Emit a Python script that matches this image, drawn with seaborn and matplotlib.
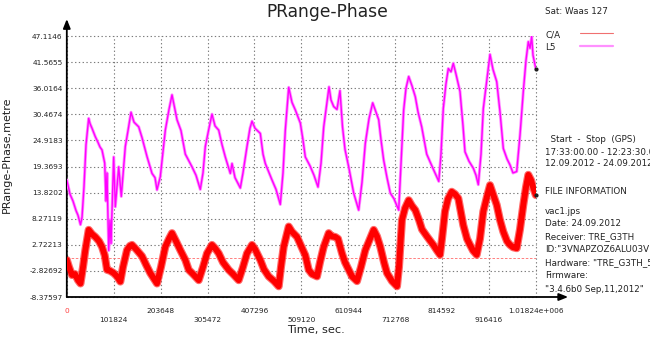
import matplotlib
matplotlib.use("Agg")
import matplotlib.pyplot as plt
from matplotlib.lines import Line2D
import numpy as np
import pandas as pd
import seaborn as sns

# ---- data -------------------------------------------------------------
# C/A pseudorange-minus-phase, metres, against time in seconds
ca_time = [0, 4800, 11300, 17800, 24300, 29700, 35200, 40200, 47500, 54700,
           61900, 69900, 76400, 82300, 87300, 93800, 101800, 109000, 116200, 122000,
           130700, 137200, 141600, 150200, 163300, 172000, 181300, 189300, 195800, 204500,
           213900, 221900, 228400, 237100, 246400, 257300, 264700, 274000, 286400, 295700,
           304400, 315200, 321800, 329800, 339100, 351500, 360800, 373200, 382500, 391200,
           402100, 408600, 420100, 428100, 438300, 449900, 460100, 465000, 470900, 481800,
           488900, 499800, 508500, 517800, 525200, 532300, 543200, 549700, 557800, 568600,
           575800, 582900, 588800, 597500, 604000, 612000, 619200, 630000, 638700, 648100,
           658300, 666300, 673500, 680600, 688700, 695200, 706000, 716900, 721200, 727700,
           734300, 742300, 749500, 756600, 764700, 771200, 782000, 795700, 803700, 810300,
           814600, 821100, 827600, 835700, 842800, 850000, 855800, 860800, 868900, 875400,
           881900, 889900, 897100, 904300, 912300, 918800, 925300, 933400, 940500, 947700,
           955700, 962200, 968700, 976800, 983900, 991100, 997000, 1002000, 1007800, 1012200,
           1018240]
ca_value = [-0.5, -2.0, -3.7, -3.5, -4.8, -5.5, -2.0, 1.6, 5.9, 5.0,
            4.4, 3.5, 2.3, 0.5, -2.6, -2.8, -3.3, -4.0, -5.1, -2.0,
            1.6, 2.5, 2.7, 1.8, 0.3, -1.5, -3.3, -4.5, -5.5, -2.0,
            2.3, 4.0, 5.2, 3.5, 1.6, -0.5, -2.6, -3.5, -4.8, -2.0,
            0.9, 2.7, 2.0, 0.9, -1.0, -2.6, -3.5, -4.8, -2.0, 0.9,
            2.7, 1.8, -0.5, -2.5, -4.0, -5.0, -6.1, -2.0, 2.3, 6.6,
            5.5, 4.4, 2.5, 0.5, -2.6, -3.5, -4.0, -1.0, 2.3, 5.2,
            4.5, 4.4, 4.0, 0.9, -1.0, -2.6, -4.0, -5.0, -2.0, 1.6,
            4.0, 5.9, 4.5, 2.3, -1.0, -3.3, -5.0, -6.1, -2.0, 8.0,
            10.5, 12.2, 11.0, 10.1, 8.0, 6.0, 4.5, 2.7, 1.5, 0.6,
            4.0, 9.8, 12.5, 14.0, 13.5, 12.6, 9.5, 6.9, 4.0, 2.7,
            1.5, 0.6, 4.0, 9.8, 13.0, 15.4, 13.5, 11.2, 8.0, 5.5,
            3.5, 2.7, 2.2, 2.0, 6.0, 11.2, 15.0, 17.6, 16.5, 15.0,
            13.3]

# L5 pseudorange-minus-phase, metres, against time in seconds
l5_time = [0, 6900, 13500, 20000, 24300, 29700, 33000, 37300, 41700, 47500,
           50400, 54700, 61900, 67700, 72100, 76400, 82300, 85100, 87300, 91000,
           93800, 96000, 101800, 105300, 112700, 118300, 127000, 132900, 139400, 145900,
           156100, 163300, 174100, 185000, 191500, 195800, 203000, 213900, 221900, 228400,
           234900, 239300, 247900, 257300, 271800, 280500, 289800, 295700, 300700, 308700,
           315200, 321800, 329800, 337000, 344100, 355000, 358700, 365200, 376700, 382500,
           391200, 397700, 402100, 408600, 420100, 426000, 431000, 445500, 454200, 463500,
           469400, 474400, 481800, 488900, 496100, 507000, 512800, 517800, 528000, 536700,
           545400, 551900, 557800, 564900, 569300, 573600, 579500, 586600, 593100, 598600,
           604000, 612000, 622900, 633700, 640900, 648100, 656100, 664100, 669100, 677200,
           682200, 688000, 695200, 702400, 710400, 720600, 725600, 731400, 736400, 742300,
           749500, 756600, 762500, 770500, 781400, 788500, 797200, 807600, 812400, 817400,
           823300, 828300, 834100, 839100, 845000, 853700, 860200, 864500, 873200, 882600,
           888400, 893400, 899300, 904300, 912300, 918800, 925300, 933400, 940500, 947700,
           955700, 962200, 968700, 976800, 983900, 991100, 997000, 1002000, 1005700, 1009300,
           1012200, 1018240]
l5_value = [16.5, 13.5, 12.0, 10.0, 9.0, 7.0, 8.5, 15.0, 24.0, 29.6,
            28.5, 27.5, 25.7, 24.5, 23.5, 22.9, 20.1, 12.0, 18.0, 1.5,
            8.0, 3.0, 21.4, 10.8, 19.3, 13.0, 23.6, 27.0, 30.9, 28.8,
            27.8, 25.5, 21.5, 17.9, 17.0, 14.4, 17.2, 27.1, 31.5, 34.6,
            31.5, 29.3, 27.0, 22.0, 19.3, 17.5, 14.5, 18.0, 23.6, 27.5,
            30.5, 28.0, 27.1, 24.0, 21.4, 17.9, 20.0, 17.0, 14.8, 18.0,
            23.6, 27.5, 29.0, 27.5, 26.4, 22.0, 20.0, 16.5, 14.5, 11.3,
            18.0, 27.1, 36.2, 33.0, 31.4, 28.6, 25.0, 21.4, 19.5, 17.5,
            15.0, 20.0, 27.8, 33.0, 36.3, 33.5, 32.1, 31.5, 35.5, 27.8,
            23.0, 19.3, 13.7, 10.1, 16.0, 24.3, 29.5, 32.9, 31.5, 29.3,
            25.0, 20.7, 17.0, 13.7, 12.5, 10.1, 20.0, 31.4, 36.0, 38.5,
            36.5, 34.2, 31.0, 27.8, 22.0, 20.4, 18.5, 16.2, 22.0, 31.7,
            37.0, 40.2, 39.5, 41.3, 39.0, 35.3, 28.0, 22.5, 20.5, 19.0,
            17.5, 15.5, 22.0, 31.7, 38.0, 43.2, 40.0, 37.4, 31.0, 23.2,
            21.0, 19.7, 18.0, 18.3, 26.0, 35.3, 42.0, 45.9, 44.5, 47.0,
            43.0, 40.2]

x_ticks = [0, 101824, 203648, 305472, 407296, 509120, 610944, 712768, 814592, 916416, 1018240]
x_tick_labels = ["0", "101824", "203648", "305472", "407296", "509120",
                 "610944", "712768", "814592", "916416", "1.01824e+006"]
y_ticks = [-8.37597, -2.82692, 2.72213, 8.27119, 13.8202, 19.3693,
           24.9183, 30.4674, 36.0164, 41.5655, 47.1146]
y_tick_labels = ["-8.37597", "-2.82692", "2.72213", "8.27119", "13.8202", "19.3693",
                 "24.9183", "30.4674", "36.0164", "41.5655", "47.1146"]

info_lines = [
    ("  Start  -  Stop  (GPS)", 139),
    ("17:33:00.00 - 12:23:30.00", 152),
    ("12.09.2012 - 24.09.2012", 164),
    ("FILE INFORMATION", 191),
    ("vac1.jps", 211),
    ("Date: 24.09.2012", 224),
    ("Receiver: TRE_G3TH", 237),
    ('ID:"3VNAPZOZ6ALU03VP"', 250),
    ('Hardware: "TRE_G3TH_5"', 263),
    ("Firmware:", 276),
    ('"3.4.6b0 Sep,11,2012"', 289),
]

# ---- figure -----------------------------------------------------------
sns.set_theme(style="white")
plt.rcParams["font.family"] = ["DejaVu Sans"]

W, H = 650, 338
fig = plt.figure(figsize=(W / 100, H / 100), dpi=100)
fig.patch.set_facecolor("white")
ax = fig.add_axes([66.8 / W, (H - 297) / H, 469 / W, 261 / H])
ax.set_facecolor("white")

ca = pd.DataFrame({"t": ca_time, "v": ca_value})
l5 = pd.DataFrame({"t": l5_time, "v": l5_value})

# C/A trace: a broad red band with a soft edge
sns.lineplot(data=ca, x="t", y="v", ax=ax, color="#ff3a3a", linewidth=5.8,
             alpha=0.75, estimator=None, sort=False, zorder=3)
sns.lineplot(data=ca, x="t", y="v", ax=ax, color="#ff0000", linewidth=4.2,
             estimator=None, sort=False, zorder=3.1)
# L5 trace: thinner magenta line
sns.lineplot(data=l5, x="t", y="v", ax=ax, color="#ff90ff", linewidth=2.2,
             estimator=None, sort=False, zorder=4)
sns.lineplot(data=l5, x="t", y="v", ax=ax, color="#ff00ff", linewidth=1.0,
             estimator=None, sort=False, zorder=4.1)

# end-of-track markers
sns.scatterplot(x=[ca_time[-1], l5_time[-1]], y=[ca_value[-1], l5_value[-1]], ax=ax,
                color="#202020", s=9, linewidth=0, zorder=6, clip_on=False)

# zero reference for C/A
ax.axhline(0, color="#ff6a6a", linestyle=(0, (3, 2)), linewidth=0.6, zorder=2)

ax.set_xlim(x_ticks[0], x_ticks[-1])
ax.set_ylim(y_ticks[0], y_ticks[-1])
ax.set_xticks(x_ticks)
ax.set_yticks(y_ticks)
ax.set_yticklabels(y_tick_labels)
ax.set_xticklabels([])
ax.tick_params(axis="both", length=0, labelsize=5.3, colors="#222222")
ax.tick_params(axis="y", pad=3.0)
ax.grid(True, color="#7a7a7a", linestyle=(0, (1.2, 2.2)), linewidth=0.8, zorder=1)
for gl in ax.get_xgridlines() + ax.get_ygridlines():
    gl.set_clip_on(False)
for s in ax.spines.values():
    s.set_visible(False)
ax.set_xlabel("")
ax.set_ylabel("")

# staggered x tick labels
for i, (xv, lab) in enumerate(zip(x_ticks, x_tick_labels)):
    off = -9.9 if i % 2 == 0 else -16.6
    ax.annotate(lab, xy=(xv, 0), xycoords=("data", "axes fraction"),
                xytext=(0, off), textcoords="offset points",
                ha="center", va="center", fontsize=5.3,
                color="#ff4040" if i == 0 else "#222222", annotation_clip=False)

# axis lines with arrow heads
arrow = dict(arrowstyle="-|>,head_length=0.45,head_width=0.18", color="black",
             linewidth=1.3, shrinkA=0, shrinkB=0)
ax.annotate("", xy=(1.069, 0), xytext=(0, 0), xycoords="axes fraction",
            textcoords="axes fraction", arrowprops=arrow, annotation_clip=False)
ax.annotate("", xy=(0, 1.065), xytext=(0, 0), xycoords="axes fraction",
            textcoords="axes fraction", arrowprops=arrow, annotation_clip=False)

# titles
fig.text(327 / W, 1 - 12 / H, "PRange-Phase", ha="center", va="center",
         fontsize=12.3, color="#222222")
fig.text(316 / W, 1 - 330 / H, "Time, sec.", ha="center", va="center",
         fontsize=8.2, color="#222222")
fig.text(6.5 / W, 1 - 155 / H, "PRange-Phase,metre", ha="center", va="center",
         rotation=90, fontsize=8.0, color="#222222")

# legend and side panel
fig.text(545 / W, 1 - 11 / H, "Sat: Waas 127", ha="left", va="center",
         fontsize=6.3, color="#222222")
fig.text(545 / W, 1 - 34.5 / H, "C/A", ha="left", va="center", fontsize=6.3, color="#222222")
fig.text(545 / W, 1 - 47.5 / H, "L5", ha="left", va="center", fontsize=6.3, color="#222222")
fig.add_artist(Line2D([580 / W, 613 / W], [1 - 33.3 / H, 1 - 33.3 / H],
                      color="#f07070", linewidth=0.8))
fig.add_artist(Line2D([580 / W, 613 / W], [1 - 46 / H, 1 - 46 / H],
                      color="#ff90ff", linewidth=1.6))
for txt, yp in info_lines:
    fig.text(545 / W, 1 - yp / H, txt, ha="left", va="center",
             fontsize=6.3, color="#222222")

fig.savefig("out.png", dpi=100)
